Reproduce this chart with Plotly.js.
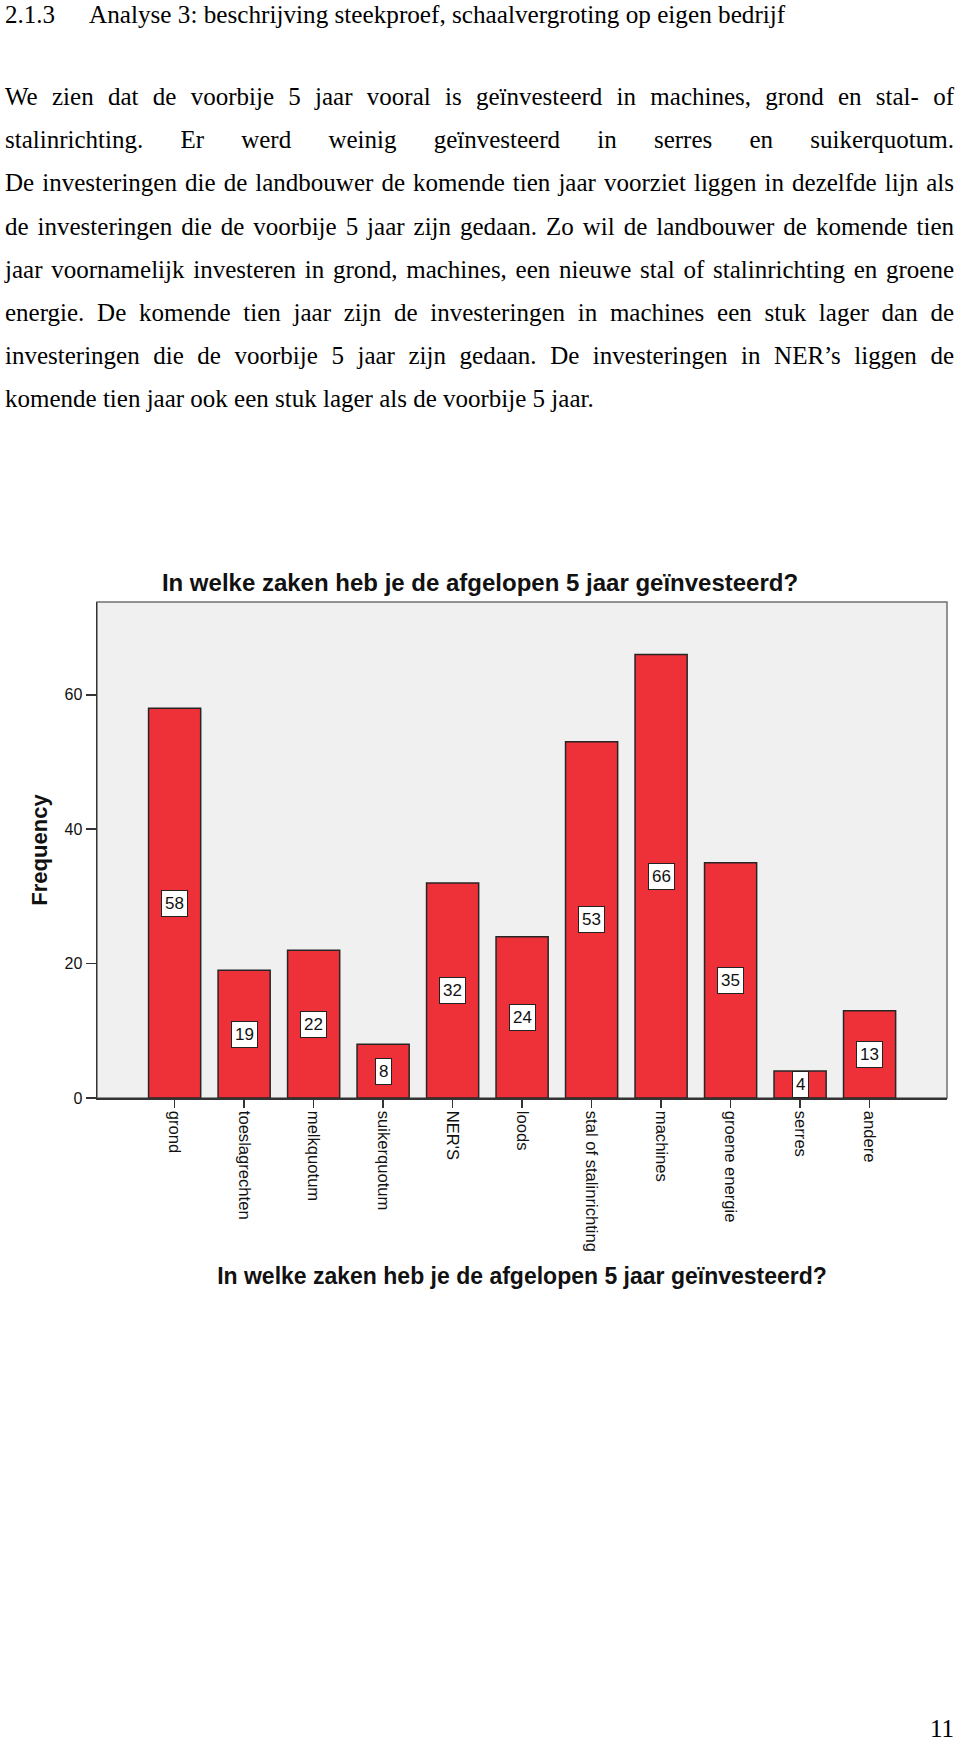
<!DOCTYPE html>
<html>
<head>
<meta charset="utf-8">
<script src="https://cdn.plot.ly/plotly-3.0.1.min.js"></script>
<style>
  html, body { margin: 0; padding: 0; background: #fff; }
  #page { position: relative; width: 960px; height: 1744px; overflow: hidden; }
  #chart { position: absolute; left: 0; top: 0; width: 960px; height: 1744px; }
  .txt { position: absolute; z-index: 2; font-family: "Liberation Serif", "Times New Roman", serif; color: #000; white-space: nowrap; }
  .jl { position: absolute; z-index: 2; left: 5px; width: 949px; font-family: "Liberation Serif", "Times New Roman", serif; font-size: 25px; line-height: 30px; color: #000; text-align: justify; text-align-last: justify; white-space: normal; }
  .last { text-align: left; text-align-last: left; }
</style>
</head>
<body>
<div id="page">
  <div id="chart"></div>
  <div class="txt" style="left:5px; top:0px; font-size:25px; line-height:30px;">2.1.3</div>
  <div class="txt" style="left:89px; top:0px; font-size:25.2px; line-height:30px;">Analyse 3: beschrijving steekproef, schaalvergroting op eigen bedrijf</div>
  <div id="body"></div>
  <div class="txt" style="left:930px; top:1717px; font-size:25px; line-height:24px;">11</div>
</div>
<script>
// ---- page text ----
const bodyLines = [
  "We zien dat de voorbije 5 jaar vooral is geïnvesteerd in machines, grond en stal- of",
  "stalinrichting. Er werd weinig geïnvesteerd in serres en suikerquotum.",
  "De investeringen die de landbouwer de komende tien jaar voorziet liggen in dezelfde lijn als",
  "de investeringen die de voorbije 5 jaar zijn gedaan. Zo wil de landbouwer de komende tien",
  "jaar voornamelijk investeren in grond, machines, een nieuwe stal of stalinrichting en groene",
  "energie. De komende tien jaar zijn de investeringen in machines een stuk lager dan de",
  "investeringen die de voorbije 5 jaar zijn gedaan. De investeringen in NER’s liggen de",
  "komende tien jaar ook een stuk lager als de voorbije 5 jaar."
];
const bodyEl = document.getElementById('body');
bodyLines.forEach((t, i) => {
  const d = document.createElement('div');
  d.className = 'jl' + (i === bodyLines.length - 1 ? ' last' : '');
  d.style.top = (82 + 43.2 * i) + 'px';
  d.textContent = t;
  bodyEl.appendChild(d);
});

// ---- chart data ----
const categories = ["grond", "toeslagrechten", "melkquotum", "suikerquotum", "NER'S", "loods",
                    "stal of stalinrichting", "machines", "groene energie", "serres", "andere"];
const frequencies = [58, 19, 22, 8, 32, 24, 53, 66, 35, 4, 13];
const yTicks = [0, 20, 40, 60];
const chartTitle = "In welke zaken heb je de afgelopen 5 jaar geïnvesteerd?";
const xTitle = "In welke zaken heb je de afgelopen 5 jaar geïnvesteerd?";
const yTitle = "Frequency";

const FONT = "Liberation Sans, Arial, sans-serif";

const trace = {
  type: 'bar',
  x: categories,
  y: frequencies,
  width: 0.75,
  marker: { color: '#EE3039', line: { color: '#262626', width: 1.5 } },
  hoverinfo: 'none'
};

const annotations = categories.map((c, i) => ({
  x: c, y: frequencies[i] / 2, xref: 'x', yref: 'y',
  text: String(frequencies[i]), showarrow: false,
  font: { family: FONT, size: 17, color: '#111' },
  bgcolor: '#ffffff', bordercolor: '#222', borderwidth: 1, borderpad: 3
}));

const layout = {
  width: 960, height: 1744,
  margin: { l: 97, r: 13, t: 602, b: 646 },
  paper_bgcolor: 'rgba(0,0,0,0)',
  plot_bgcolor: '#F0F0F0',
  showlegend: false,
  font: { family: FONT, color: '#111' },
  title: {
    text: '<b>' + chartTitle + '</b>',
    font: { family: FONT, size: 24, color: '#111' },
    x: 0.5, xref: 'container', xanchor: 'center',
    y: 1 - 583 / 1744, yref: 'container', yanchor: 'middle'
  },
  xaxis: {
    type: 'category',
    categoryorder: 'array', categoryarray: categories,
    range: [-1.117, 11.114],
    tickangle: 90,
    ticks: 'outside', ticklen: 8, tickwidth: 1.5, tickcolor: '#333',
    tickfont: { family: FONT, size: 16.6, color: '#111' },
    showline: true, linecolor: '#333', linewidth: 1.5,
    showgrid: false, zeroline: false,
    title: { text: '<b>' + xTitle + '</b>', font: { family: FONT, size: 23, color: '#111' }, standoff: 17 },
    fixedrange: true
  },
  yaxis: {
    range: [0, 73.8],
    tickmode: 'array', tickvals: yTicks, ticktext: yTicks.map(String),
    ticks: 'outside', ticklen: 10, tickwidth: 1.5, tickcolor: '#333',
    tickfont: { family: FONT, size: 16, color: '#111' },
    showline: true, linecolor: '#333', linewidth: 1.5,
    showgrid: false, zeroline: false,
    title: { text: '<b>' + yTitle + '</b>', font: { family: FONT, size: 22, color: '#111' }, standoff: 11 },
    fixedrange: true
  },
  shapes: [{
    type: 'rect', xref: 'paper', yref: 'paper', x0: 0, x1: 1, y0: 0, y1: 1,
    line: { color: '#707070', width: 1.5 }, fillcolor: 'rgba(0,0,0,0)', layer: 'below'
  }],
  annotations: annotations
};

Plotly.newPlot('chart', [trace], layout, { displayModeBar: false, staticPlot: true });
</script>
</body>
</html>
